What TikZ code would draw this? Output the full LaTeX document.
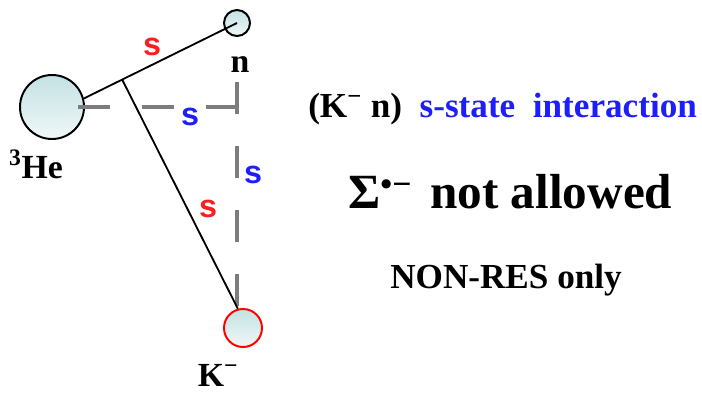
\documentclass[tikz,border=0pt]{standalone}
\usepackage{fontspec}
\setmainfont{Liberation Serif}
\newfontfamily\sansfont{Liberation Sans}
\usetikzlibrary{positioning}
\definecolor{ballcyan}{RGB}{196,226,228}
\definecolor{ballpale}{RGB}{240,247,247}
\definecolor{sred}{RGB}{250,30,30}
\definecolor{sblue}{RGB}{30,30,250}
\definecolor{dashgray}{RGB}{125,125,125}
\begin{document}
\begin{tikzpicture}[x=0.025cm, y=-0.025cm,
    ball/.style={circle, draw, line width=1.4pt, inner sep=0pt,
                 top color=ballcyan, bottom color=ballpale},
    bond/.style={line width=1.3pt},
    link/.style={draw=dashgray, line width=2.2pt, dash pattern=on 0.8cm off 0.8cm},
    wave/.style={font=\sansfont\bfseries\fontsize{23}{23}\selectfont, inner sep=0pt, anchor=base},
    part/.style={font=\bfseries\fontsize{24}{24}\selectfont, inner sep=0pt, anchor=base},
    note/.style={font=\bfseries\fontsize{25}{25}\selectfont, inner sep=0pt, anchor=base},
    big/.style={font=\bfseries\fontsize{35}{35}\selectfont, inner sep=0pt, anchor=base west}
]
    \useasboundingbox (0,0) rectangle (702,395);

    % three particles
    \node[ball, minimum size=1.6cm]  (He) at (52,107) {};
    \node[ball, minimum size=0.65cm] (n)  at (237,23) {};
    \node[ball, draw=red, minimum size=0.95cm] (K) at (243,328) {};

    \node[part] (nlab)  at (240,72)  {n};
    \node[part] (helab) at (36,178)  {\textsuperscript{3}He};
    \node[part] (klab)  at (218,386) {K\textsuperscript{−}};

    % relative coordinates (dashed)
    \coordinate (hs)   at (78,107);
    \coordinate (cn)   at (237,107);
    \coordinate (ctop) at (237,82);
    \draw[link] (hs) -- (cn);
    \draw[link] (ctop) -- (ctop |- K.north);

    % solid bonds
    \draw[bond] (He.15) -- coordinate[pos=0.25] (br) (n.center);
    \draw[bond] (br) -- (K.105);

    \node[wave, text=sred]  (s1) at (152,55)  {s};
    \node[wave, text=sblue] (s2) at (190,125) {s};
    \node[wave, text=sblue] (s3) at (253,183) {s};
    \node[wave, text=sred]  (s4) at (208,217) {s};

    % text on the right
    \node[note, anchor=base west] (title) at (308,117)
        {(K\textsuperscript{−} n)\hspace{0.5em}\textcolor{sblue}{s-state\hspace{0.5em}interaction}};
    \node[big] (sig) at (348,208) {Σ\raisebox{0.25em}{\fontsize{24}{24}\selectfont•−}};
    \node[big] (na)  at (430,208) {not allowed};
    \node[note] (nonres) at (506,288) {NON-RES only};
\end{tikzpicture}
\end{document}
